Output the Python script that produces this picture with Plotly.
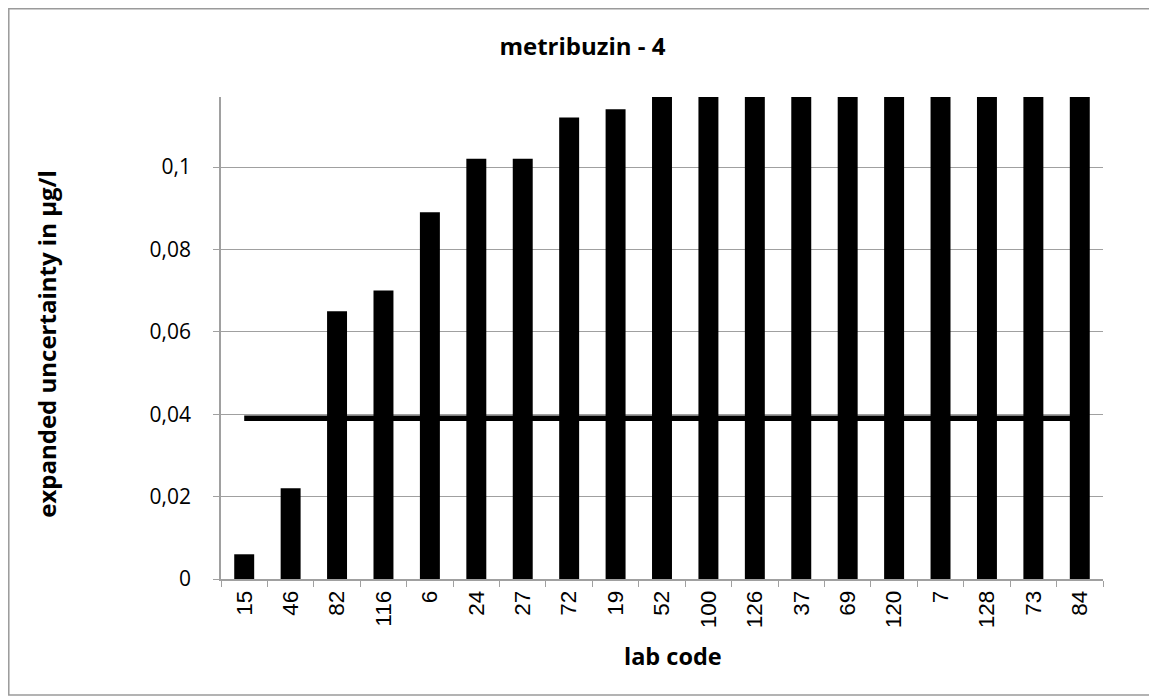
import plotly.graph_objects as go

lab_codes = ["15", "46", "82", "116", "6", "24", "27", "72", "19", "52", "100",
             "126", "37", "69", "120", "7", "128", "73", "84"]
uncertainty = [0.006, 0.022, 0.065, 0.070, 0.089, 0.102, 0.102, 0.112, 0.114,
               0.12, 0.125, 0.13, 0.14, 0.15, 0.16, 0.18, 0.2, 0.25, 0.3]
reference_line = 0.039
y_tick_vals = [0, 0.02, 0.04, 0.06, 0.08, 0.1]
y_tick_text = ["0", "0,02", "0,04", "0,06", "0,08", "0,1"]

fig = go.Figure()
fig.add_trace(go.Bar(x=lab_codes, y=uncertainty, marker=dict(color="black", line=dict(width=0)),
                     showlegend=False, cliponaxis=True))
fig.add_trace(go.Scatter(x=lab_codes, y=[reference_line] * len(lab_codes), mode="lines",
                         line=dict(color="black", width=5.5), showlegend=False))

fig.update_layout(
    width=1149, height=692,
    paper_bgcolor="white", plot_bgcolor="white",
    margin=dict(l=213, r=54, t=89, b=121, autoexpand=False),
    bargap=0.57,
    title=dict(text="<b>metribuzin - 4</b>", x=0.5, xanchor="center", y=0.9436, yanchor="middle",
               font=dict(family="Open Sans", size=24, color="black")),
    shapes=[dict(type="rect", xref="paper", yref="paper", x0=-0.2406, x1=1.0567, y0=-0.2407, y1=1.1831,
                 line=dict(color="#9a9a9a", width=1.5), fillcolor="rgba(0,0,0,0)", layer="below")],
    annotations=[
        dict(text="<b>lab code</b>", xref="paper", yref="paper", x=0.5125, y=-0.16,
             xanchor="center", yanchor="middle", showarrow=False,
             font=dict(family="Open Sans", size=23.5, color="black")),
        dict(text="<b>expanded uncertainty in µg/l</b>", xref="paper", yref="paper", x=-0.1973, y=0.488,
             xanchor="center", yanchor="middle", showarrow=False, textangle=-90,
             font=dict(family="Open Sans", size=24, color="black")),
    ],
    xaxis=dict(
        type="category", tickangle=-90, tickson="boundaries", ticks="outside", ticklen=6,
        tickcolor="#a0a0a0", showline=True, linecolor="#a0a0a0", linewidth=1.5,
        tickfont=dict(family="Arial", size=22.5, color="black"), ticklabelstandoff=1,
        showgrid=False,
    ),
    yaxis=dict(
        range=[0, 0.117], tickvals=y_tick_vals, ticktext=y_tick_text, ticks="outside", ticklen=6,
        tickcolor="#a0a0a0", showline=True, linecolor="#a0a0a0", linewidth=1.5,
        showgrid=True, gridcolor="#a0a0a0", gridwidth=1.2, zeroline=False,
        tickfont=dict(family="Open Sans", size=21, color="black"), ticklabelstandoff=18,
    ),
)

fig.write_html("out.html")
